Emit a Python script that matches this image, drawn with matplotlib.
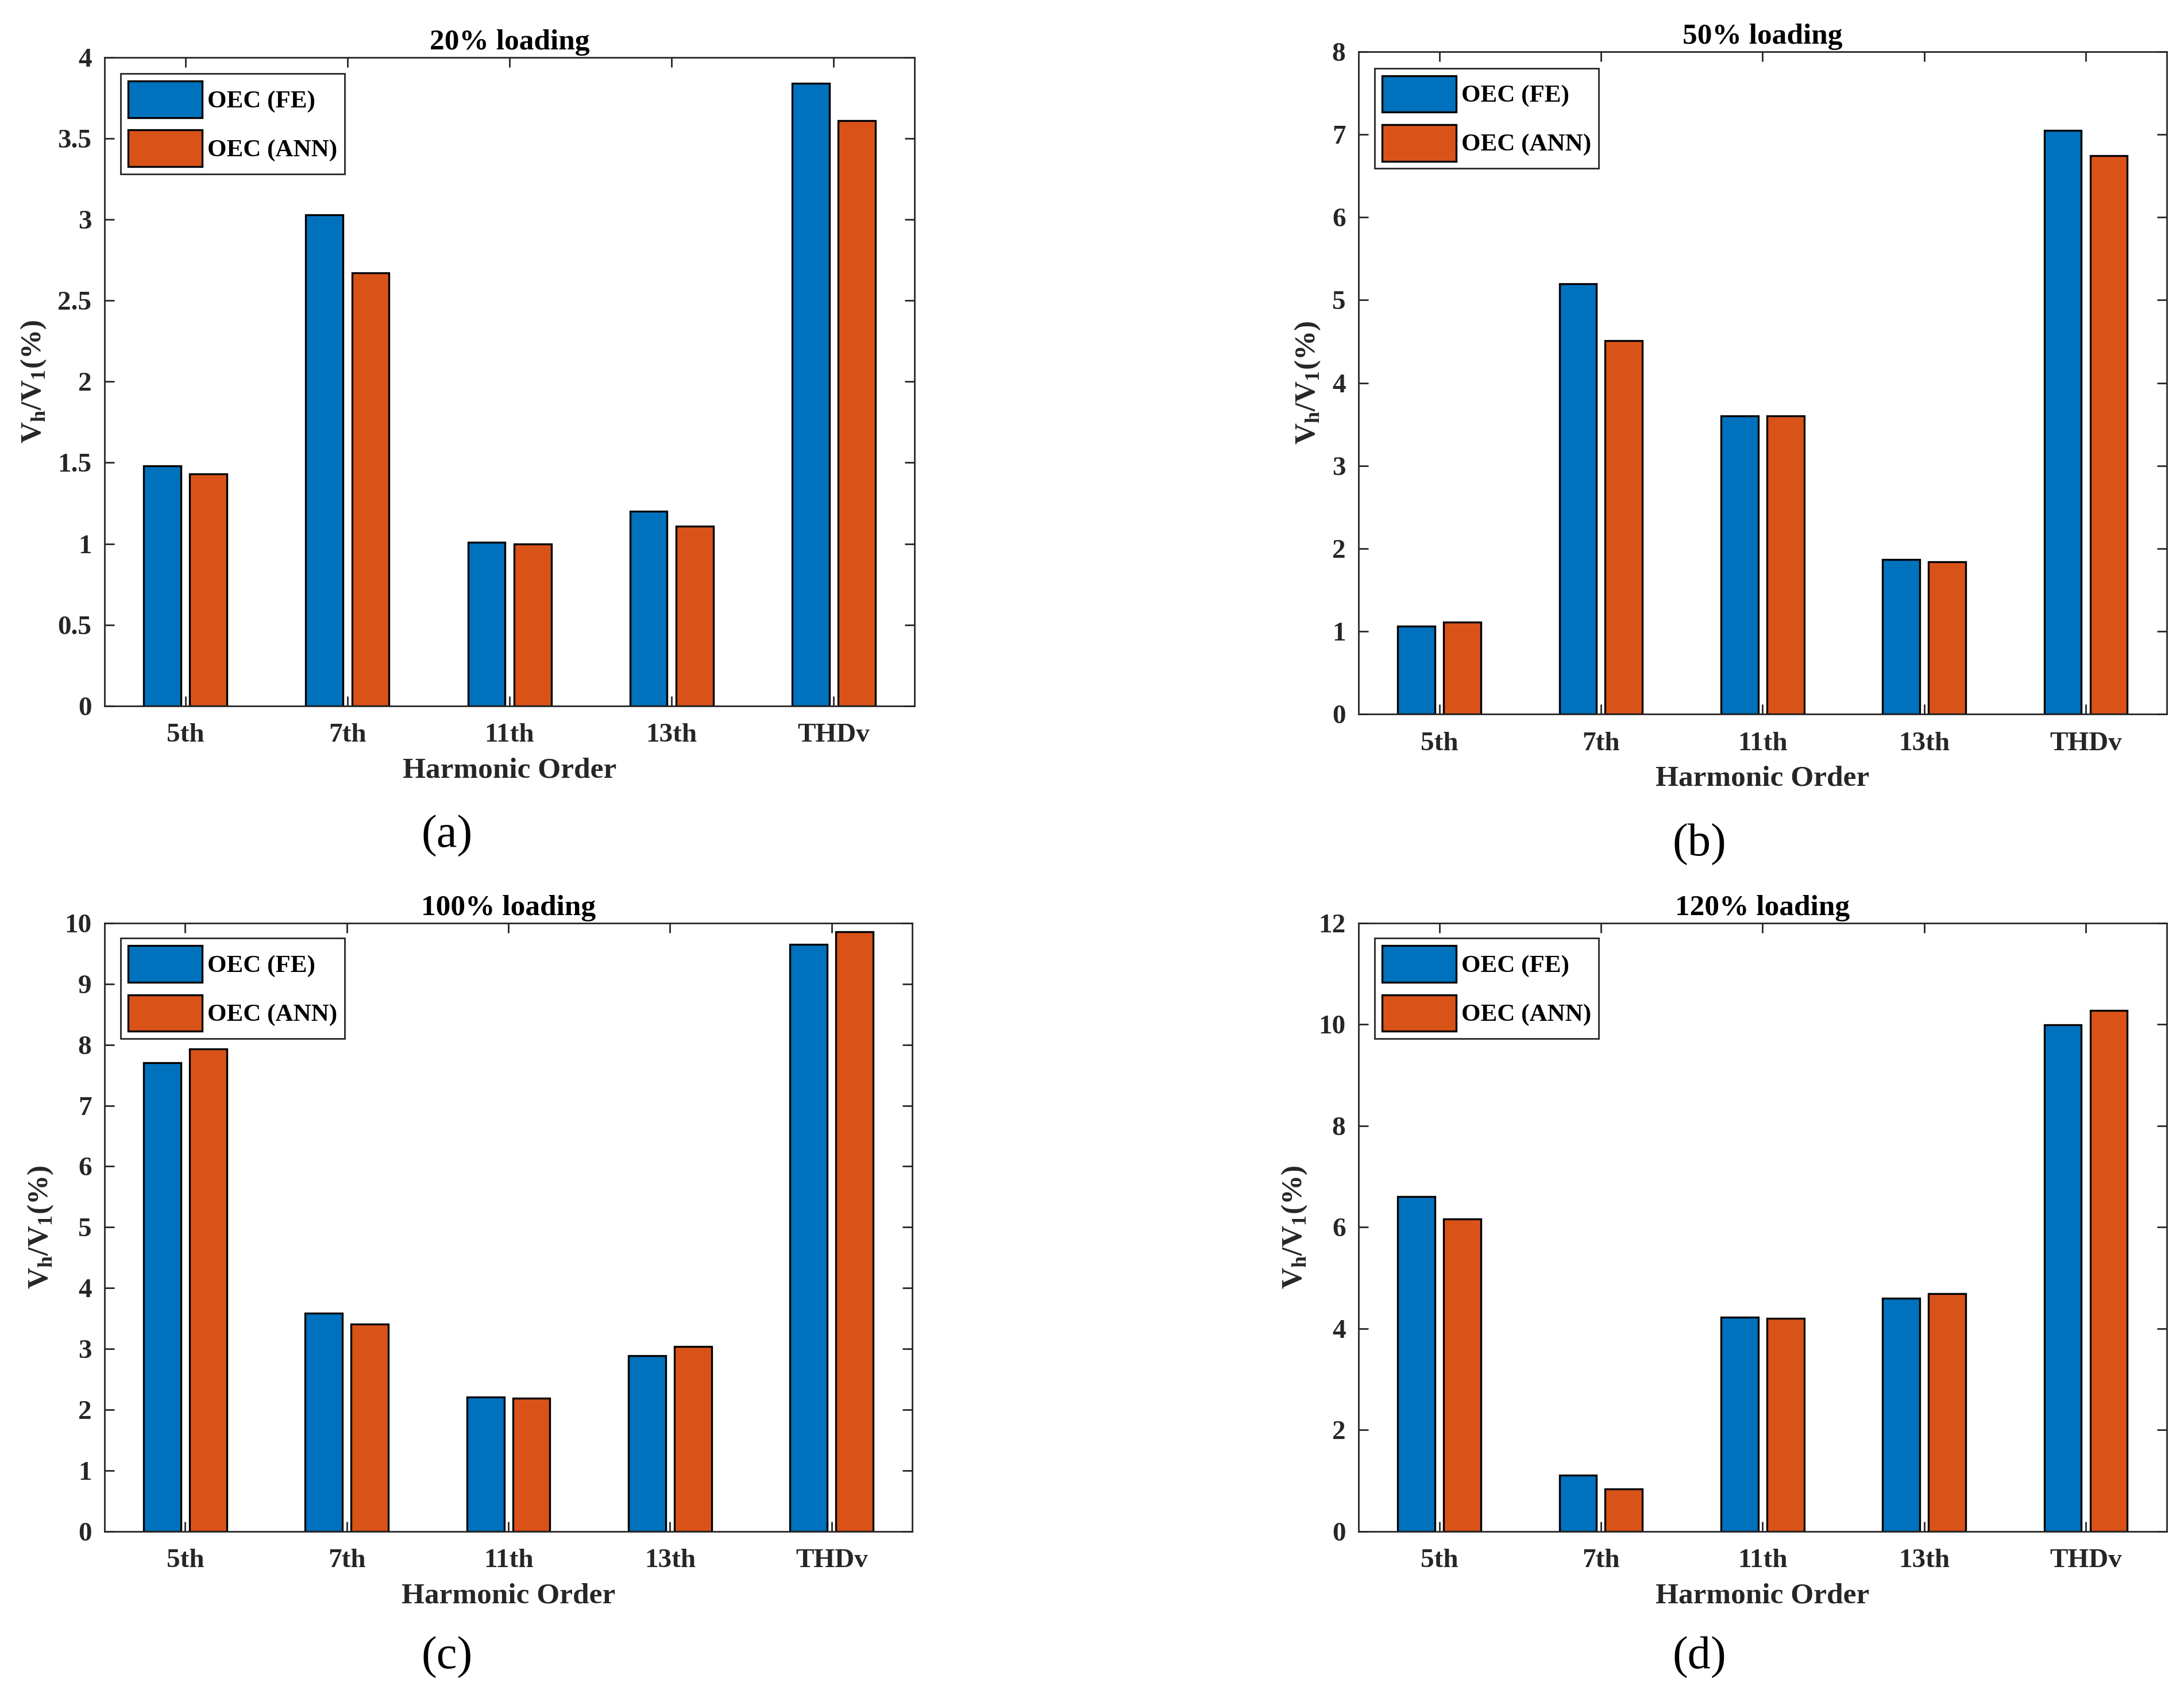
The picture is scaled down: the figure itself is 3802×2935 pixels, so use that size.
import numpy as np
import matplotlib
matplotlib.use('Agg')
import matplotlib.pyplot as plt
from matplotlib.ticker import FuncFormatter

# harmonic categories
orders = ['5th', '7th', '11th', '13th', 'THDv']
series_names = ['OEC (FE)', 'OEC (ANN)']

# Vh/V1 (%)
fe_20 = [1.48, 3.03, 1.01, 1.20, 3.84]
ann_20 = [1.43, 2.67, 1.00, 1.11, 3.61]
fe_50 = [1.06, 5.20, 3.60, 1.87, 7.05]
ann_50 = [1.11, 4.51, 3.60, 1.84, 6.74]
fe_100 = [7.70, 3.59, 2.21, 2.89, 9.65]
ann_100 = [7.93, 3.41, 2.19, 3.04, 9.86]
fe_120 = [6.61, 1.11, 4.23, 4.60, 9.99]
ann_120 = [6.16, 0.84, 4.20, 4.69, 10.28]

titles = ['20% loading', '50% loading', '100% loading', '120% loading']
panel_tags = ['(a)', '(b)', '(c)', '(d)']
ylims = [4, 8, 10, 12]
ysteps = [0.5, 1, 1, 2]

blue = '#0072BD'
orange = '#D95319'
axcol = '#262626'

plt.rcParams['font.family'] = ['Liberation Serif', 'DejaVu Serif']
plt.rcParams['font.weight'] = 'bold'
plt.rcParams['mathtext.fontset'] = 'custom'
plt.rcParams['mathtext.rm'] = 'Liberation Serif:bold'
plt.rcParams['mathtext.bf'] = 'Liberation Serif:bold'

fig = plt.figure(figsize=(19.01, 14.675), dpi=200)

# axes boxes [left, bottom, width, height] in figure fractions
boxes = [[0.0478, 0.5813, 0.371, 0.3847],
         [0.622, 0.5764, 0.370, 0.3930],
         [0.0478, 0.0917, 0.370, 0.3608],
         [0.622, 0.0917, 0.370, 0.3608]]
tag_pos = [(0.2047, 0.504), (0.778, 0.499), (0.2047, 0.017), (0.778, 0.017)]

data = [(fe_20, ann_20), (fe_50, ann_50), (fe_100, ann_100), (fe_120, ann_120)]

x = np.arange(1, len(orders) + 1)
w = 0.23
off = 0.142

for i in range(4):
    ax = fig.add_axes(boxes[i])
    fe, ann = data[i]
    ax.bar(x - off, fe, w, color=blue, edgecolor='black', linewidth=1.2, label=series_names[0], zorder=2)
    ax.bar(x + off, ann, w, color=orange, edgecolor='black', linewidth=1.2, label=series_names[1], zorder=2)

    ax.set_xlim(0.5, 5.5)
    ax.set_ylim(0, ylims[i])
    ax.set_xticks(x)
    ax.set_xticklabels(orders)
    ax.set_yticks(np.arange(0, ylims[i] + ysteps[i] / 2, ysteps[i]))
    ax.yaxis.set_major_formatter(FuncFormatter(lambda v, p: '%g' % v))
    ax.tick_params(direction='in', length=6, width=1.0, colors=axcol, labelsize=17,
                   top=True, right=True)
    ax.tick_params(axis='x', pad=11)
    ax.tick_params(axis='y', pad=8)
    for lab in ax.get_xticklabels() + ax.get_yticklabels():
        lab.set_color(axcol)
        lab.set_fontweight('bold')
    for s in ax.spines.values():
        s.set_color(axcol)
        s.set_linewidth(1.0)

    ax.set_title(titles[i], fontsize=18.5, fontweight='bold', pad=5)
    ax.set_xlabel('Harmonic Order', fontsize=18.5, fontweight='bold', color=axcol, labelpad=6)
    ax.set_ylabel(r'V$_\mathregular{h}$/V$_\mathregular{1}$(%)', fontsize=18.5,
                  fontweight='bold', color=axcol, labelpad=6)

    leg = ax.legend(loc='upper left', bbox_to_anchor=(0.02, 0.975), borderaxespad=0,
                    fontsize=15.5, handlelength=3.0, handleheight=1.9, labelspacing=0.5,
                    handletextpad=0.2, borderpad=0.3, fancybox=False, framealpha=1)
    leg.get_frame().set_edgecolor(axcol)
    leg.get_frame().set_linewidth(1.0)
    for t in leg.get_texts():
        t.set_fontweight('bold')

    fig.text(tag_pos[i][0], tag_pos[i][1], panel_tags[i], fontsize=29, fontweight='normal',
             ha='center', va='center', color='black')

fig.savefig('out.png', dpi=200, facecolor='white')
